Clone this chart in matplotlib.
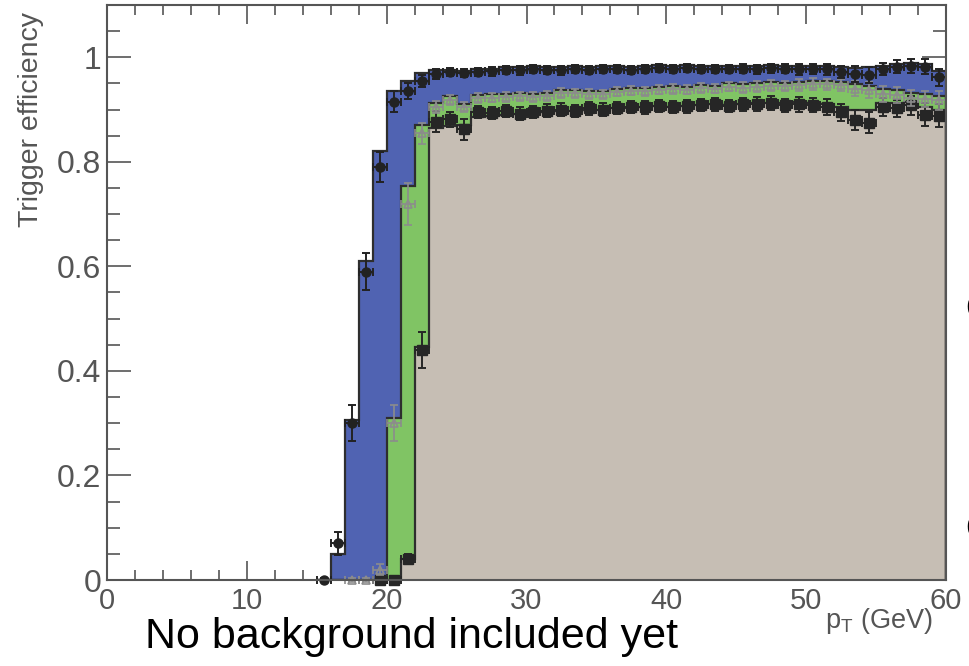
import numpy as np
import matplotlib
matplotlib.use("Agg")
import matplotlib.pyplot as plt
from matplotlib.ticker import MultipleLocator

# ---------------- data ----------------
# histogram bin edges (GeV), 1 GeV bins from 15 to 60
pt_edges = np.arange(15, 61)
pt_centers = pt_edges[:-1] + 0.5

# efficiency histograms (filled), one value per bin 15..59
eff_blue = [0.0, 0.05, 0.307, 0.61, 0.82, 0.935, 0.955, 0.97, 0.975, 0.976,
            0.974, 0.977, 0.978, 0.982, 0.981, 0.983, 0.982, 0.981, 0.983, 0.982,
            0.983, 0.984, 0.982, 0.983, 0.985, 0.984, 0.985, 0.983, 0.984, 0.983,
            0.984, 0.983, 0.985, 0.984, 0.983, 0.984, 0.983, 0.982, 0.980, 0.981,
            0.984, 0.988, 0.989, 0.988, 0.974]
eff_green = [0.0, 0.0, 0.0, 0.0, 0.0, 0.31, 0.753, 0.87, 0.913, 0.926,
             0.91, 0.928, 0.929, 0.930, 0.931, 0.930, 0.932, 0.938, 0.937, 0.936,
             0.935, 0.940, 0.942, 0.941, 0.944, 0.945, 0.944, 0.947, 0.946, 0.950,
             0.948, 0.950, 0.952, 0.951, 0.953, 0.955, 0.954, 0.953, 0.948, 0.945,
             0.939, 0.938, 0.932, 0.930, 0.926]
eff_gray = [0.0, 0.0, 0.0, 0.0, 0.0, 0.0, 0.04, 0.445, 0.865, 0.868,
            0.870, 0.885, 0.888, 0.890, 0.892, 0.893, 0.895, 0.897, 0.898, 0.900,
            0.900, 0.902, 0.903, 0.905, 0.906, 0.905, 0.907, 0.908, 0.910, 0.909,
            0.911, 0.912, 0.913, 0.912, 0.914, 0.912, 0.910, 0.905, 0.900, 0.900,
            0.912, 0.913, 0.914, 0.905, 0.900]

# measured points (markers) with errors, per bin 15..59
pts_a = [0.0, 0.07, 0.30, 0.59, 0.79, 0.915, 0.935, 0.955, 0.968, 0.972,
         0.970, 0.972, 0.973, 0.976, 0.975, 0.977, 0.976, 0.975, 0.977, 0.976,
         0.977, 0.978, 0.976, 0.977, 0.979, 0.978, 0.979, 0.977, 0.978, 0.977,
         0.978, 0.977, 0.979, 0.978, 0.977, 0.978, 0.977, 0.972, 0.968, 0.966,
         0.978, 0.982, 0.983, 0.982, 0.962]
err_a = [0.004, 0.022, 0.035, 0.035, 0.028, 0.02, 0.015, 0.012, 0.009, 0.008,
         0.008, 0.008, 0.008, 0.008, 0.008, 0.008, 0.008, 0.008, 0.008, 0.008,
         0.008, 0.008, 0.008, 0.008, 0.008, 0.008, 0.008, 0.008, 0.008, 0.008,
         0.009, 0.009, 0.009, 0.009, 0.010, 0.010, 0.010, 0.012, 0.015, 0.015,
         0.012, 0.012, 0.014, 0.014, 0.016]
pts_b = [None, None, 0.0, 0.0, 0.02, 0.30, 0.72, 0.855, 0.905, 0.918,
         0.905, 0.922, 0.923, 0.924, 0.925, 0.924, 0.926, 0.932, 0.931, 0.930,
         0.929, 0.934, 0.936, 0.935, 0.938, 0.939, 0.938, 0.941, 0.940, 0.944,
         0.942, 0.944, 0.946, 0.945, 0.947, 0.949, 0.948, 0.947, 0.940, 0.938,
         0.930, 0.928, 0.922, 0.920, 0.918]
err_b = [0.0, 0.0, 0.004, 0.004, 0.01, 0.035, 0.04, 0.02, 0.012, 0.01,
         0.01, 0.009, 0.009, 0.009, 0.009, 0.009, 0.009, 0.009, 0.009, 0.009,
         0.009, 0.009, 0.009, 0.009, 0.009, 0.009, 0.009, 0.009, 0.009, 0.009,
         0.010, 0.010, 0.010, 0.010, 0.011, 0.011, 0.011, 0.012, 0.014, 0.015,
         0.015, 0.015, 0.016, 0.016, 0.018]
pts_c = [None, None, None, None, 0.0, 0.0, 0.04, 0.44, 0.877, 0.881,
         0.862, 0.895, 0.893, 0.897, 0.892, 0.895, 0.898, 0.900, 0.897, 0.902,
         0.900, 0.903, 0.905, 0.904, 0.907, 0.905, 0.906, 0.909, 0.910, 0.907,
         0.910, 0.911, 0.912, 0.908, 0.910, 0.909, 0.905, 0.895, 0.880, 0.875,
         0.905, 0.902, 0.908, 0.890, 0.888]
err_c = [0.0, 0.0, 0.0, 0.0, 0.004, 0.004, 0.01, 0.035, 0.02, 0.015,
         0.02, 0.012, 0.012, 0.012, 0.012, 0.012, 0.012, 0.012, 0.012, 0.012,
         0.012, 0.012, 0.012, 0.012, 0.012, 0.012, 0.012, 0.012, 0.012, 0.012,
         0.013, 0.013, 0.013, 0.013, 0.014, 0.014, 0.015, 0.016, 0.02, 0.02,
         0.018, 0.016, 0.018, 0.022, 0.022]

x_ticks = [0, 10, 20, 30, 40, 50, 60]
y_ticks = [0, 0.2, 0.4, 0.6, 0.8, 1]
y_ticklabels = ["0", "0.2", "0.4", "0.6", "0.8", "1"]

# ---------------- style ----------------
C_BLUE = "#5063B2"
C_GREEN = "#80C464"
C_GRAY = "#C6BEB4"
C_EDGE = "#2E2E2E"
C_AXIS = "#555555"
FONT = ["Liberation Sans", "DejaVu Sans"]

fig = plt.figure(figsize=(9.70, 6.66), dpi=100)
ax = fig.add_axes([107/970, 1-580/666, (946-107)/970, (580-5)/666])

for vals, col in [(eff_blue, C_BLUE), (eff_green, C_GREEN), (eff_gray, C_GRAY)]:
    ax.stairs(vals, pt_edges, fill=True, color=col, zorder=2)
    ax.stairs(vals, pt_edges, fill=False, color=C_EDGE, lw=1.6,
              baseline=0, zorder=3)


def sel(vals, errs):
    xs, ys, es = [], [], []
    for xc, v, e in zip(pt_centers, vals, errs):
        if v is not None:
            xs.append(xc); ys.append(v); es.append(e)
    return xs, ys, es

xa, ya, ea = sel(pts_a, err_a)
ax.errorbar(xa, ya, yerr=ea, xerr=0.5, fmt="o", ms=6.5, color="#222222",
            mec="#222222", elinewidth=1.4, capsize=3, capthick=1.4, zorder=6,
            clip_on=False)
xb, yb, eb = sel(pts_b, err_b)
ax.errorbar(xb, yb, yerr=eb, xerr=0.5, fmt="^", ms=6, mfc="none",
            mec="#8C8C8C", mew=1.2, ecolor="#8C8C8C", elinewidth=1.2,
            capsize=3, capthick=1.2, zorder=5, clip_on=False)
xc_, yc, ec = sel(pts_c, err_c)
ax.errorbar(xc_, yc, yerr=ec, xerr=0.5, fmt="s", ms=6.5, color="#262626",
            mec="#262626", elinewidth=1.4, capsize=3, capthick=1.4, zorder=4,
            clip_on=False)

ax.set_xlim(0, 60)
ax.set_ylim(0, 1.1)
ax.set_xticks(x_ticks)
ax.set_xticklabels([str(t) for t in x_ticks])
ax.set_yticks(y_ticks)
ax.set_yticklabels(y_ticklabels)
ax.xaxis.set_minor_locator(MultipleLocator(2))
ax.yaxis.set_minor_locator(MultipleLocator(0.05))
ax.tick_params(axis="both", which="both", direction="in", top=True,
               right=True, color=C_AXIS, width=1.2, labelcolor=C_AXIS)
ax.tick_params(axis="x", which="major", length=13.5, pad=5)
ax.tick_params(axis="x", which="minor", length=7)
ax.tick_params(axis="y", which="major", length=17, pad=4)
ax.tick_params(axis="y", which="minor", length=9.5)
for sp in ax.spines.values():
    sp.set_color(C_AXIS)
    sp.set_linewidth(1.5)
    sp.set_zorder(7)

for lab in ax.get_xticklabels():
    lab.set_fontfamily(FONT)
    lab.set_fontsize(21)
for lab in ax.get_yticklabels():
    lab.set_fontfamily(FONT)
    lab.set_fontsize(23)

fig.text(31/970, 1-12/666, "Trigger efficiency", rotation=90, ha="center",
         va="top", fontsize=20.5, color=C_AXIS, family=FONT)
fig.text(933/970, 1-628/666, r"p$_{\mathregular{T}}$ (GeV)", ha="right",
         va="baseline", fontsize=19.5, color=C_AXIS, family=FONT)
fig.text(145/970, 1-648/666, "No background included yet", ha="left",
         va="baseline", fontsize=31, color="black", family=FONT)
# clipped letters from neighbouring slide text at the right edge
fig.text(965/970, 1-318/666, "e", ha="left", va="baseline", fontsize=30,
         color="black", family=FONT)
fig.text(965/970, 1-538/666, "e", ha="left", va="baseline", fontsize=30,
         color="black", family=FONT)

fig.savefig("out.png", dpi=100)
